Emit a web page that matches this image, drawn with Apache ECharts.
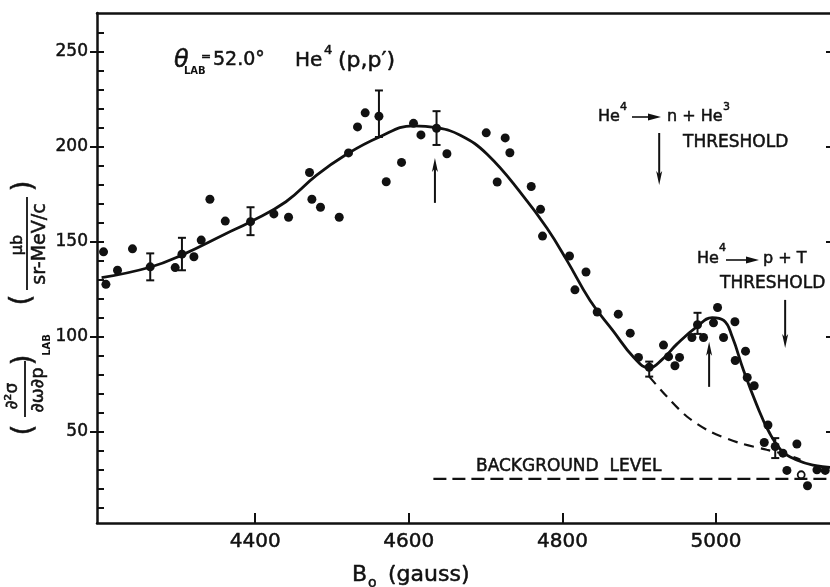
<!DOCTYPE html>
<html><head><meta charset="utf-8">
<script src="https://cdn.jsdelivr.net/npm/echarts@6/dist/echarts.min.js"></script>
<style>html,body{margin:0;padding:0;background:#fff}#c{width:830px;height:587px}</style>
</head><body><div id="c"></div>
<script>
// ---- data ----
const xTicks = [4400, 4600, 4800, 5000];
const yMajor = [50, 100, 150, 200, 250];
const yAllTicks = [10,20,30,40,50,60,70,80,90,100,110,120,130,140,150,160,170,180,190,200,210,220,230,240,250,260];

const ptsB = [4202.5,4205.6,4220.7,4240.2,4295.8,4320.2,4329.7,4341,4361,4424.3,4443.4,4470.7,4473.8,4485,4509.4,4521.5,4533.2,4543.2,4570.6,4590.5,4606.1,4615.8,4649.6,4700.8,4715.1,4725.5,4731.6,4759.4,4771.5,4774.1,4809.2,4816.3,4830.7,4845.3,4872.7,4888.3,4899,4931.6,4938.2,4946.5,4952.5,4968.6,4983.7,4996.7,5002,5009.8,5024.6,5025,5038.4,5040.6,5049.7,5062.8,5067.6,5087.1,5092.3,5105.3,5119.1,5131.4,5142.2];
const ptsV = [144.6,127.5,134.9,146.2,136.3,142,150.8,172.3,160.8,164.6,162.8,186.4,172.3,168.1,162.8,196.7,210.4,217.8,181.5,191.7,212.3,206.2,196.3,207.3,181.4,204.6,196.8,179,167,152.9,142.4,124.6,134,112.9,111.8,101.8,89,95.5,89.4,84.6,89,99.5,99.5,107.2,115.3,99.5,107.8,87.4,92.3,78.4,74.1,44.2,53.4,38.6,29.5,43.4,21.4,29.8,29.5];

const errB  = [4263.3,4304.6,4393.9,4561.1,4636.1,4913,4975.9,5077.1];
const errV  = [136.7,143.4,160.5,216,209.7,83.8,106.2,42.1];
const errLo = [129.6,134.9,153.4,205.1,200.9,78.9,101.4,36];
const errHi = [143.8,152,168.1,229.6,218.7,86.8,112.5,46.5];

const openB = [5110.9];
const openV = [27.2];

const curveB = [4200,4263,4305,4361,4394,4440,4480,4517,4561,4606,4636,4667,4702,4749,4780,4806,4836,4866,4893,4913,4930,4949,4976,4995,5010,5021,5036,5053,5068,5085,5105,5130,5151];
const curveV = [131,136.5,143,154,160.5,171,185,195.5,205,211,210,206,196,174,157,140,119,103,89,83.5,88,96,105.5,110,108.5,100,82,64,50.5,40,35,32,31];

const dashB = [4913,4936,4962,4992,5031,5066,5092,5110];
const dashV = [78.9,68.4,57.9,50,43.9,40.4,37.7,35.1];

const bgB = [4632, 5151];
const bgV = [25, 25];

// annotation arrows: position, tail value, head value
const arrowB    = [4634, 4991, 4926, 5090];
const arrowFrom = [170.4, 73.5, 207.2, 119.3];
const arrowTo   = [194, 97.2, 179.8, 94];

// ---- chart ----
const INK = '#111';
const F = 'DejaVu Sans';
const zip = (a, b) => a.map((v, i) => [v, b[i]]);

function T(text, x, y, size, extra) {
  return {type: 'text', x: x, y: y, z: 100,
    style: Object.assign({text: text, fontSize: size, fontFamily: F, fill: INK,
      align: 'left', verticalAlign: 'middle', stroke: INK, lineWidth: 0.5}, extra || {})};
}
function L(x1, y1, x2, y2, w) {
  return {type: 'line', z: 100, shape: {x1, y1, x2, y2}, style: {stroke: INK, lineWidth: w || 1.6}};
}
function P(pts) {
  return {type: 'polygon', z: 100, shape: {points: pts}, style: {fill: INK}};
}
const plain = v => String(Math.round(v));

const chart = echarts.init(document.getElementById('c'));
const option = {
  backgroundColor: '#fff',
  animation: false,
  grid: {left: 97, right: 0, top: 13, bottom: 64},
  xAxis: [{
    type: 'value', min: 4194, max: 5148.4, position: 'bottom',
    axisLine: {show: true, lineStyle: {color: INK, width: 2.5}},
    axisTick: {show: true, inside: true, length: 10, customValues: xTicks, lineStyle: {color: INK, width: 2}},
    axisLabel: {show: true, customValues: xTicks, formatter: plain, margin: 9, fontSize: 20, fontFamily: F, color: INK,
      textBorderColor: INK, textBorderWidth: 0.5},
    splitLine: {show: false}
  }, {
    type: 'value', min: 4194, max: 5148.4, position: 'top',
    axisLine: {show: true, onZero: false, lineStyle: {color: INK, width: 2.5}},
    axisTick: {show: false}, axisLabel: {show: false}, splitLine: {show: false}
  }],
  yAxis: [{
    type: 'value', min: 1.8, max: 270.4, position: 'left',
    axisLine: {show: true, onZero: false, lineStyle: {color: INK, width: 2.5}},
    axisTick: {show: true, inside: true, length: 7, customValues: yAllTicks, lineStyle: {color: INK, width: 2}},
    axisLabel: {show: true, customValues: yMajor, formatter: plain, margin: 9, fontSize: 17, fontFamily: F, color: INK,
      textBorderColor: INK, textBorderWidth: 0.5},
    splitLine: {show: false}
  }, {
    type: 'value', min: 1.8, max: 270.4, position: 'left', offset: 0,
    axisLine: {show: false},
    axisTick: {show: true, inside: false, length: 7, customValues: yMajor, lineStyle: {color: INK, width: 2}},
    axisLabel: {show: false}, splitLine: {show: false}
  }, {
    type: 'value', min: 1.8, max: 270.4, position: 'right', offset: 0,
    axisLine: {show: false},
    axisTick: {show: true, inside: true, length: 4, customValues: yMajor, lineStyle: {color: INK, width: 2}},
    axisLabel: {show: false}, splitLine: {show: false}
  }],
  series: [
    {type: 'line', data: zip(curveB, curveV), showSymbol: false, smooth: 0.45,
      lineStyle: {color: INK, width: 2.8}, z: 3},
    {type: 'line', data: zip(dashB, dashV), showSymbol: false, smooth: 0.3,
      lineStyle: {color: INK, width: 2.2, type: [10, 7]}, z: 3},
    {type: 'line', data: zip(bgB, bgV), showSymbol: false,
      lineStyle: {color: INK, width: 2.2, type: [13, 6]}, z: 3},
    {type: 'scatter', data: zip(ptsB, ptsV), symbol: 'circle', symbolSize: 9,
      itemStyle: {color: INK, opacity: 1}, z: 5},
    {type: 'scatter', data: zip(errB, errV), symbol: 'circle', symbolSize: 9,
      itemStyle: {color: INK, opacity: 1}, z: 5},
    {type: 'scatter', data: zip(openB, openV), symbol: 'circle', symbolSize: 7,
      itemStyle: {color: '#fff', borderColor: INK, borderWidth: 1.8, opacity: 1}, z: 6},
    {type: 'custom', z: 4,
      data: errB.map((b, i) => [b, errLo[i], errHi[i]]),
      renderItem: function (params, api) {
        const x = api.value(0);
        const p1 = api.coord([x, api.value(1)]);
        const p2 = api.coord([x, api.value(2)]);
        const w = 4;
        const st = {stroke: INK, lineWidth: 2};
        return {type: 'group', children: [
          {type: 'line', shape: {x1: p1[0], y1: p1[1], x2: p2[0], y2: p2[1]}, style: st},
          {type: 'line', shape: {x1: p1[0] - w, y1: p1[1], x2: p1[0] + w, y2: p1[1]}, style: st},
          {type: 'line', shape: {x1: p2[0] - w, y1: p2[1], x2: p2[0] + w, y2: p2[1]}, style: st}
        ]};
      }
    },
    {type: 'custom', z: 4,
      data: arrowB.map((b, i) => [b, arrowFrom[i], arrowTo[i]]),
      renderItem: function (params, api) {
        const x = api.value(0);
        const a = api.coord([x, api.value(1)]);
        const h = api.coord([x, api.value(2)]);
        const dir = h[1] < a[1] ? 1 : -1; // 1: head points up
        const len = 14, hw = 3;
        return {type: 'group', children: [
          {type: 'line', shape: {x1: a[0], y1: a[1], x2: h[0], y2: h[1] + dir * len * 0.6}, style: {stroke: INK, lineWidth: 2}},
          {type: 'polygon', shape: {points: [[h[0], h[1]], [h[0] - hw, h[1] + dir * len], [h[0], h[1] + dir * len * 0.75], [h[0] + hw, h[1] + dir * len]]}, style: {fill: INK}}
        ]};
      }
    }
  ],
  graphic: [
    // title
    T('θ', 174, 61, 24, {fontStyle: 'italic'}),
    T('LAB', 184, 71, 10, {fontWeight: 'bold', lineWidth: 0}),
    T('=', 201, 57, 12),
    T('52.0°', 213, 60, 19),
    T('He', 295, 61, 20),
    T('4', 324, 51, 13),
    T('(p,p′)', 338, 61, 22),
    // threshold 1
    T('He', 598, 117, 16),
    T('4', 620, 107, 11),
    L(632, 117, 652, 117, 1.6), P([[648, 113.5], [661, 117], [648, 120.5]]),
    T('n + He', 667, 117, 16),
    T('3', 723, 107, 11),
    T('THRESHOLD', 683, 143, 17),
    // threshold 2
    T('He', 697, 259, 16),
    T('4', 719, 248, 11),
    L(726, 260, 750, 260, 1.6), P([[746, 256.5], [759, 260], [746, 263.5]]),
    T('p + T', 763, 259, 16),
    T('THRESHOLD', 720, 284, 17),
    // background
    T('BACKGROUND  LEVEL', 476, 467, 17),
    // x axis title
    T('B', 352, 575, 22),
    T('o', 368, 583, 14),
    T('(gauss)', 388, 575, 22),
    // y axis title (rotated)
    {type: 'group', x: 30, y: 440, rotation: Math.PI / 2, children: [
      T('(', 10, -5, 28, {align: 'center'}),
      T('∂²σ', 44, -17, 17, {align: 'center'}),
      L(23, -5, 79, -5, 1.8),
      T('∂ω∂p', 50, 8, 18, {align: 'center'}),
      T(')', 80, -5, 28, {align: 'center'}),
      T('LAB', 95, 17, 10, {align: 'center', fontWeight: 'bold', lineWidth: 0}),
      T('(', 140, -7, 28, {align: 'center'}),
      T('μb', 195, -12, 16, {align: 'center'}),
      L(150, -3, 243, -3, 1.8),
      T('sr-MeV/c', 196, 10, 19, {align: 'center'}),
      T(')', 254, -5, 28, {align: 'center'})
    ]}
  ]
};
chart.setOption(option);
</script>
</body></html>
